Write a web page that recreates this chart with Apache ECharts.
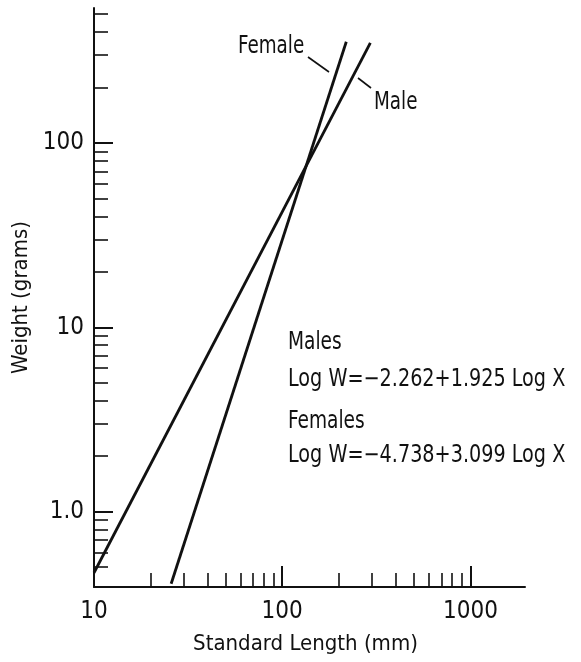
<!DOCTYPE html>
<html>
<head>
<meta charset="utf-8">
<title>Weight vs Standard Length</title>
<script src="https://cdn.jsdelivr.net/npm/echarts@6/dist/echarts.min.js"></script>
<style>
  html, body { margin: 0; padding: 0; background: #fff; }
  #chart { width: 581px; height: 662px; }
</style>
</head>
<body>
<div id="chart"></div>
<script>
// Fitted length–weight regression lines (end points, log-log)
const maleLength = [10, 294];
const maleWeight = [0.466, 349];
const femaleLength = [25.7, 219];
const femaleWeight = [0.406, 354];

// Axis ticks and labels
const xMajorTicks = [10, 100, 1000];
const xTickLabels = ['10', '100', '1000'];
const xMinorTicks = [20, 30, 40, 50, 60, 70, 80, 90, 200, 300, 400, 500, 600, 700, 800, 900];
const yMajorTicks = [1, 10, 100];
const yTickLabels = ['1.0', '10', '100'];
const yMinorTicks = [0.5, 0.6, 0.7, 0.8, 0.9, 2, 3, 4, 5, 6, 7, 8, 9,
                     20, 30, 40, 50, 60, 70, 80, 90, 200, 300, 400, 500];

// Text annotations
const lineNames = ['Female', 'Male'];
const equationLines = ['Males', 'Log W=\u22122.262+1.925 Log X', 'Females', 'Log W=\u22124.738+3.099 Log X'];

const FONT = "'DejaVu Sans Condensed', 'Liberation Sans', sans-serif";
const INK = '#111';

const X_MIN = 10, X_MAX = 1950, Y_MIN = 0.39, Y_MAX = 540;

function pairs(xs, ys) { return xs.map((x, i) => [x, ys[i]]); }

function labelFor(values, labels) {
  return v => {
    for (let i = 0; i < values.length; i++) {
      if (Math.abs(Math.log10(v) - Math.log10(values[i])) < 1e-6) return labels[i];
    }
    return '';
  };
}

// narrow annotation text, scaled horizontally from its left edge
function note(text, left, top, sx) {
  return {
    type: 'text', left: left, top: top, scaleX: sx, originX: 0,
    style: { text: text, font: '24px ' + FONT, fill: INK }
  };
}

const chart = echarts.init(document.getElementById('chart'), null, { renderer: 'canvas' });

const baseAxis = {
  type: 'log',
  logBase: 10,
  splitLine: { show: false },
  minorTick: { show: false },
  minorSplitLine: { show: false }
};

chart.setOption({
  animation: false,
  backgroundColor: '#fff',
  textStyle: { fontFamily: FONT },
  grid: { left: 94, right: 56, top: 8, bottom: 75, containLabel: false },
  xAxis: [
    Object.assign({}, baseAxis, {
      position: 'bottom',
      min: X_MIN, max: X_MAX,
      name: 'Standard Length (mm)',
      nameLocation: 'middle',
      nameGap: 46,
      nameTextStyle: { fontFamily: FONT, fontSize: 22, color: INK, padding: [0, 8, 0, 0] },
      axisLine: { show: true, lineStyle: { color: INK, width: 2 } },
      axisTick: { show: true, inside: true, length: 21, customValues: xMajorTicks, lineStyle: { color: INK, width: 2 } },
      axisLabel: { show: true, customValues: xMajorTicks, formatter: labelFor(xMajorTicks, xTickLabels),
                   fontFamily: FONT, fontSize: 24, color: INK, margin: 13 }
    }),
    Object.assign({}, baseAxis, {
      position: 'bottom',
      min: X_MIN, max: X_MAX,
      axisLine: { show: false },
      axisTick: { show: true, inside: true, length: 14, customValues: xMinorTicks, lineStyle: { color: INK, width: 1.6 } },
      axisLabel: { show: false }
    })
  ],
  yAxis: [
    Object.assign({}, baseAxis, {
      position: 'left',
      min: Y_MIN, max: Y_MAX,
      name: 'Weight (grams)',
      nameLocation: 'middle',
      nameGap: 60,
      nameTextStyle: { fontFamily: FONT, fontSize: 22, color: INK },
      axisLine: { show: true, lineStyle: { color: INK, width: 2 } },
      axisTick: { show: true, inside: true, length: 19, customValues: yMajorTicks, lineStyle: { color: INK, width: 2 } },
      axisLabel: { show: true, customValues: yMajorTicks, formatter: labelFor(yMajorTicks, yTickLabels),
                   fontFamily: FONT, fontSize: 24, color: INK, margin: 10 }
    }),
    Object.assign({}, baseAxis, {
      position: 'left',
      min: Y_MIN, max: Y_MAX,
      axisLine: { show: false },
      axisTick: { show: true, inside: true, length: 14, customValues: yMinorTicks, lineStyle: { color: INK, width: 1.6 } },
      axisLabel: { show: false }
    })
  ],
  series: [
    {
      name: lineNames[0],
      type: 'line',
      xAxisIndex: 0, yAxisIndex: 0,
      data: pairs(femaleLength, femaleWeight),
      symbol: 'none',
      lineStyle: { color: INK, width: 2.8 }
    },
    {
      name: lineNames[1],
      type: 'line',
      xAxisIndex: 0, yAxisIndex: 0,
      data: pairs(maleLength, maleWeight),
      symbol: 'none',
      lineStyle: { color: INK, width: 2.8 }
    }
  ],
  graphic: [
    // line name labels with short leaders
    note(lineNames[0], 238, 35, 0.85),
    { type: 'line', shape: { x1: 308, y1: 57, x2: 329, y2: 72 }, style: { stroke: INK, lineWidth: 1.6 } },
    note(lineNames[1], 374, 91, 0.85),
    { type: 'line', shape: { x1: 358, y1: 78, x2: 371, y2: 88 }, style: { stroke: INK, lineWidth: 1.6 } },
    // regression equations
    note(equationLines[0], 288, 331, 0.86),
    note(equationLines[1], 288, 368, 0.89),
    note(equationLines[2], 288, 410, 0.86),
    note(equationLines[3], 288, 444, 0.89)
  ]
});
</script>
</body>
</html>
